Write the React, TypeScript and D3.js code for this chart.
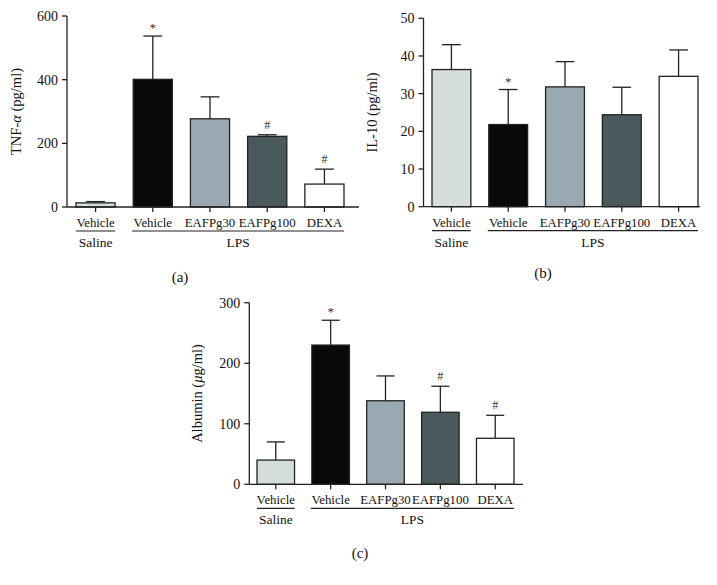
import React from "react";
import * as d3 from "d3";

const categories = ["Vehicle", "Vehicle", "EAFPg30", "EAFPg100", "DEXA"];
const groupLabels = ["Saline", "LPS"];
const barColors = ["#d6dedd", "#080a0a", "#9aa9b1", "#4a5a5c", "#ffffff"];

const tnfValues = [13, 401, 277, 222, 72];
const tnfErrors = [4, 136, 69, 5, 47];
const tnfMarks = ["", "*", "", "#", "#"];
const tnfTicks = [0, 200, 400, 600];

const il10Values = [36.4, 21.8, 31.8, 24.4, 34.6];
const il10Errors = [6.6, 9.3, 6.7, 7.3, 7.0];
const il10Marks = ["", "*", "", "", ""];
const il10Ticks = [0, 10, 20, 30, 40, 50];

const albValues = [40, 230, 138, 119, 76];
const albErrors = [30, 41, 41, 43, 38];
const albMarks = ["", "*", "", "#", "#"];
const albTicks = [0, 100, 200, 300];

const FONT = "'Liberation Serif', 'DejaVu Serif', serif";
const STROKE = "#222";

type PanelProps = {
  axisX: number;
  axisEnd: number;
  yTop: number;
  yBottom: number;
  barStart: number;
  barEnd: number;
  yMax: number;
  ticks: number[];
  values: number[];
  errors: number[];
  marks: string[];
  yLabel: React.ReactNode;
  yLabelX: number;
  panelLabel: string;
  panelLabelX: number;
  panelLabelY: number;
};

function Panel(p: PanelProps) {
  const y = d3.scaleLinear().domain([0, p.yMax]).range([p.yBottom, p.yTop]);
  const x = d3
    .scaleBand<number>()
    .domain(d3.range(categories.length))
    .range([p.barStart, p.barEnd])
    .paddingInner(0.316)
    .paddingOuter(0);
  const bw = x.bandwidth();
  const cap = bw * 0.24;
  const base = p.yBottom;
  const catY = base + 20;
  const lineY = base + 24;
  const grpY = base + 40;
  const cx = (i: number) => (x(i) as number) + bw / 2;
  const salineL = x(0) as number;
  const salineR = salineL + bw;
  const lpsL = (x(1) as number) - 1;
  const lpsR = (x(4) as number) + bw;
  const midY = (p.yTop + p.yBottom) / 2;
  return (
    <g fontFamily={FONT} fill="#111">
      {p.values.map((v, i) => (
        <g key={i}>
          <line
            x1={cx(i)}
            x2={cx(i)}
            y1={y(v)}
            y2={y(v + p.errors[i])}
            stroke={STROKE}
            strokeWidth={1.3}
          />
          <line
            x1={cx(i) - cap}
            x2={cx(i) + cap}
            y1={y(v + p.errors[i])}
            y2={y(v + p.errors[i])}
            stroke={STROKE}
            strokeWidth={1.3}
          />
          <rect
            x={x(i)}
            y={y(v)}
            width={bw}
            height={base - y(v)}
            fill={barColors[i]}
            stroke={STROKE}
            strokeWidth={1.3}
          />
          {p.marks[i] && (
            <text
              x={cx(i)}
              y={y(v + p.errors[i]) - (p.marks[i] === "*" ? 4 : 6)}
              textAnchor="middle"
              fontSize={p.marks[i] === "*" ? 13 : 12}
              fill="#333"
            >
              {p.marks[i]}
            </text>
          )}
        </g>
      ))}
      <line x1={p.axisX} x2={p.axisX} y1={p.yTop} y2={base} stroke={STROKE} strokeWidth={1.3} />
      {p.ticks.map((t) => (
        <g key={t}>
          <line x1={p.axisX - 5} x2={p.axisX} y1={y(t)} y2={y(t)} stroke={STROKE} strokeWidth={1.3} />
          <text x={p.axisX - 9} y={y(t)} dy="0.35em" textAnchor="end" fontSize={14}>
            {t}
          </text>
        </g>
      ))}
      <text
        transform={`translate(${p.yLabelX},${midY}) rotate(-90)`}
        textAnchor="middle"
        fontSize={14.5}
      >
        {p.yLabel}
      </text>
      <line x1={p.axisX} x2={p.axisEnd} y1={base} y2={base} stroke={STROKE} strokeWidth={1.3} />
      {categories.map((c, i) => (
        <g key={i}>
          <line x1={cx(i)} x2={cx(i)} y1={base} y2={base + 5} stroke={STROKE} strokeWidth={1.3} />
          <text x={cx(i)} y={catY} textAnchor="middle" fontSize={12.8}>
            {c}
          </text>
        </g>
      ))}
      <line x1={salineL} x2={salineR} y1={lineY} y2={lineY} stroke={STROKE} strokeWidth={1.2} />
      <line x1={lpsL} x2={lpsR} y1={lineY} y2={lineY} stroke={STROKE} strokeWidth={1.2} />
      <text x={(salineL + salineR) / 2} y={grpY} textAnchor="middle" fontSize={13.5}>
        {groupLabels[0]}
      </text>
      <text x={(lpsL + lpsR) / 2} y={grpY} textAnchor="middle" fontSize={13.5}>
        {groupLabels[1]}
      </text>
      <text x={p.panelLabelX} y={p.panelLabelY} textAnchor="middle" fontSize={15}>
        {p.panelLabel}
      </text>
    </g>
  );
}

export default function App() {
  return (
    <svg
      width={717}
      height={585}
      style={{ position: "absolute", left: 0, top: 0, background: "#fff" }}
    >
      <rect width={717} height={585} fill="#fff" />
      <Panel
        axisX={67}
        axisEnd={359}
        yTop={16}
        yBottom={207}
        barStart={76}
        barEnd={344}
        yMax={600}
        ticks={tnfTicks}
        values={tnfValues}
        errors={tnfErrors}
        marks={tnfMarks}
        yLabel={
          <>
            TNF-<tspan fontStyle="italic">α</tspan> (pg/ml)
          </>
        }
        yLabelX={21}
        panelLabel="(a)"
        panelLabelX={180}
        panelLabelY={282}
      />
      <Panel
        axisX={423.5}
        axisEnd={700}
        yTop={18.3}
        yBottom={206.7}
        barStart={432}
        barEnd={698}
        yMax={50}
        ticks={il10Ticks}
        values={il10Values}
        errors={il10Errors}
        marks={il10Marks}
        yLabel="IL-10 (pg/ml)"
        yLabelX={377}
        panelLabel="(b)"
        panelLabelX={543}
        panelLabelY={278}
      />
      <Panel
        axisX={249.3}
        axisEnd={523}
        yTop={302.7}
        yBottom={484.3}
        barStart={257}
        barEnd={514}
        yMax={300}
        ticks={albTicks}
        values={albValues}
        errors={albErrors}
        marks={albMarks}
        yLabel={
          <>
            Albumin (<tspan fontStyle="italic">μ</tspan>g/ml)
          </>
        }
        yLabelX={202}
        panelLabel="(c)"
        panelLabelX={360}
        panelLabelY={558}
      />
    </svg>
  );
}
